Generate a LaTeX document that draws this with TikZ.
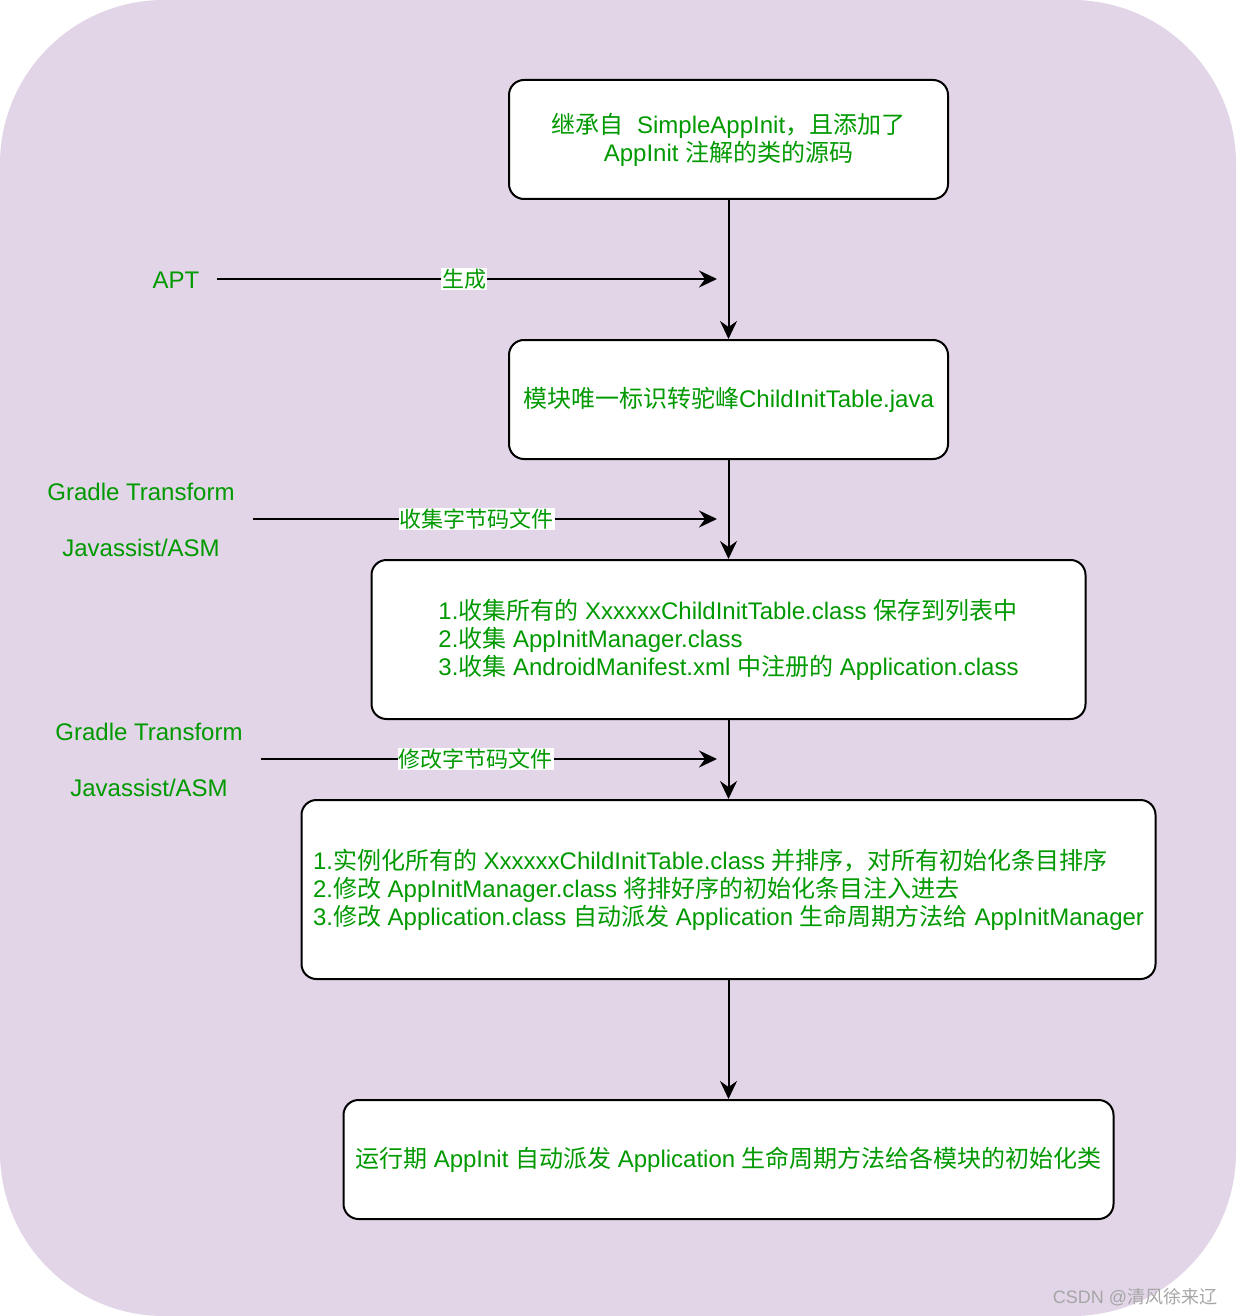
\documentclass[tikz,border=0pt]{standalone}
\usepackage{fontspec}
\setmainfont{Liberation Sans}
\newfontfamily\cjk{Noto Sans CJK SC}
\usepackage{tikz}
\usetikzlibrary{arrows.meta,positioning}
\definecolor{bgpurple}{HTML}{E1D5E7}
\definecolor{txtgreen}{HTML}{009900}
\newcommand{\zh}[1]{{\cjk #1}}

\begin{document}
\begin{tikzpicture}[x=0.5pt,y=-0.5pt,
    font=\fontsize{12pt}{14pt}\selectfont,
    stepbox/.style={draw,line width=1pt,rounded corners=7.5pt,fill=white,text=txtgreen,align=center},
    side/.style={text=txtgreen,align=center},
    flow/.style={line width=1pt,-{Stealth[length=9pt,width=8.5pt,inset=3pt]}},
    tag/.style={fill=white,text=txtgreen,inner sep=0.5pt,font=\fontsize{11pt}{13pt}\selectfont}]
    \useasboundingbox (0,0) rectangle (1236,1316);
    \fill[bgpurple,rounded corners=82pt] (0,0) rectangle (1236,1316);

    \node[stepbox,minimum width=219.5pt,minimum height=59.5pt] (src) at (728.5,139.5)
      {\zh{继承自}~~SimpleAppInit\zh{，且添加了}\\AppInit \zh{注解的类的源码}};
    \node[stepbox,minimum width=219.5pt,minimum height=59.5pt] (table) at (728.5,399.5)
      {\zh{模块唯一标识转驼峰}ChildInitTable.java};
    \node[stepbox,minimum width=357pt,minimum height=79.5pt,align=left] (collect) at (728.5,639.5)
      {1.\zh{收集所有的} XxxxxxChildInitTable.class \zh{保存到列表中}\\
       2.\zh{收集} AppInitManager.class\\
       3.\zh{收集} AndroidManifest.xml \zh{中注册的} Application.class};
    \node[stepbox,minimum width=427pt,minimum height=89.5pt,align=left] (modify) at (728.5,889.5)
      {1.\zh{实例化所有的} XxxxxxChildInitTable.class \zh{并排序，对所有初始化条目排序}\\
       2.\zh{修改} AppInitManager.class \zh{将排好序的初始化条目注入进去}\\
       3.\zh{修改} Application.class \zh{自动派发} Application \zh{生命周期方法给} AppInitManager};
    \node[stepbox,minimum width=385pt,minimum height=59.5pt] (runtime) at (728.5,1159.5)
      {\zh{运行期} AppInit \zh{自动派发} Application \zh{生命周期方法给各模块的初始化类}};

    % tools on the left
    \node[side] (apt) at (176,280) {APT};
    \node[side] (gradleA) at (141,520) {Gradle Transform\\[14pt]Javassist/ASM};
    \node[side] (gradleB) at (149,760) {Gradle Transform\\[14pt]Javassist/ASM};
    \coordinate (aptend) at (717,279);
    \coordinate (gradleAend) at (717,519);
    \coordinate (gradleBend) at (717,759);

    \draw[flow] (src.south) -- (table.north);
    \draw[flow] (table.south) -- (collect.north);
    \draw[flow] (collect.south) -- (modify.north);
    \draw[flow] (modify.south) -- (runtime.north);

    \draw[flow] ([xshift=5.5pt,yshift=0.5pt]apt.east) -- (aptend) node[tag,pos=0.494] {\zh{生成}};
    \draw[flow] ([xshift=5.5pt,yshift=0.5pt]gradleA.east) -- (gradleAend) node[tag,pos=0.483] {\zh{收集字节码文件}};
    \draw[flow] ([xshift=5.5pt,yshift=0.5pt]gradleB.east) -- (gradleBend) node[tag,pos=0.471] {\zh{修改字节码文件}};

    \node[text=gray!70,font=\fontsize{9pt}{10pt}\selectfont] (mark) at (1135,1297) {CSDN @\zh{清风徐来辽}};
\end{tikzpicture}
\end{document}
